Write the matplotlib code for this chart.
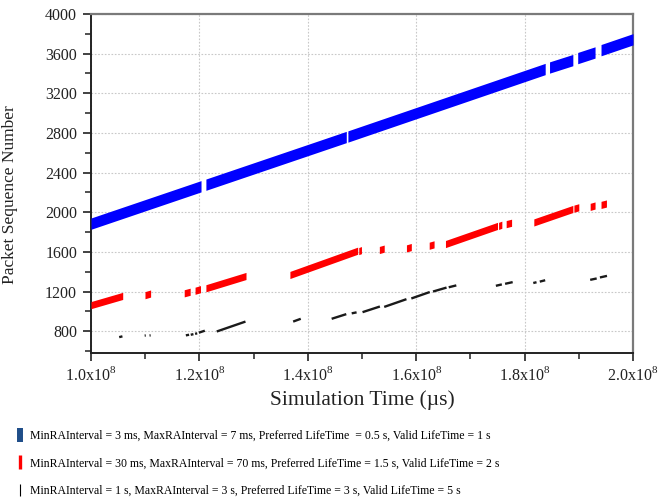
import matplotlib
matplotlib.use('Agg')
import matplotlib.pyplot as plt
from matplotlib.lines import Line2D
from matplotlib.ticker import MultipleLocator, FuncFormatter

# ---- data: received segments (time in µs, packet sequence number at start / end)
blue_t0 = [1.000e8, 1.212e8, 1.474e8, 1.846e8, 1.898e8, 1.941e8]
blue_t1 = [1.203e8, 1.471e8, 1.838e8, 1.889e8, 1.930e8, 2.000e8]
blue_s0 = [1885, 2278, 2764, 3460, 3555, 3635]
blue_s1 = [2262, 2759, 3445, 3535, 3612, 3745]

red_t0 = [1.000e8, 1.0996e8, 1.172e8, 1.192e8, 1.212e8, 1.367e8, 1.494e8, 1.532e8,
          1.582e8, 1.624e8, 1.654e8, 1.752e8, 1.766e8, 1.817e8, 1.891e8, 1.921e8, 1.941e8]
red_t1 = [1.0585e8, 1.110e8, 1.183e8, 1.202e8, 1.286e8, 1.492e8, 1.499e8, 1.541e8,
          1.591e8, 1.633e8, 1.750e8, 1.758e8, 1.776e8, 1.889e8, 1.900e8, 1.930e8, 1.951e8]
red_s0 = [1063, 1163, 1182, 1208, 1233, 1367, 1608, 1619,
          1635, 1662, 1679, 1862, 1880, 1897, 2036, 2054, 2074]
red_s1 = [1156, 1180, 1198, 1224, 1357, 1612, 1618, 1633,
          1649, 1676, 1862, 1874, 1894, 2033, 2050, 2068, 2088]

black_t0 = [1.052e8, 1.099e8, 1.108e8, 1.175e8, 1.184e8, 1.192e8, 1.199e8, 1.232e8,
            1.373e8, 1.444e8, 1.481e8, 1.501e8, 1.541e8, 1.591e8, 1.631e8, 1.660e8,
            1.747e8, 1.764e8, 1.816e8, 1.828e8, 1.921e8, 1.939e8]
black_t1 = [1.058e8, 1.101e8, 1.110e8, 1.181e8, 1.189e8, 1.196e8, 1.210e8, 1.285e8,
            1.387e8, 1.471e8, 1.490e8, 1.533e8, 1.582e8, 1.625e8, 1.656e8, 1.674e8,
            1.758e8, 1.778e8, 1.822e8, 1.838e8, 1.933e8, 1.952e8]
black_s0 = [740, 756, 757, 758, 764, 774, 785, 797,
            897, 925, 980, 992, 1045, 1130, 1200, 1243,
            1258, 1278, 1286, 1300, 1318, 1342]
black_s1 = [748, 757, 758, 764, 770, 778, 805, 897,
            925, 972, 990, 1049, 1123, 1195, 1240, 1262,
            1272, 1295, 1294, 1314, 1332, 1358]

legend_labels = [
    "MinRAInterval = 3 ms, MaxRAInterval = 7 ms, Preferred LifeTime  = 0.5 s, Valid LifeTime = 1 s",
    "MinRAInterval = 30 ms, MaxRAInterval = 70 ms, Preferred LifeTime = 1.5 s, Valid LifeTime = 2 s",
    "MinRAInterval = 1 s, MaxRAInterval = 3 s, Preferred LifeTime = 3 s, Valid LifeTime = 5 s",
]

plt.rcParams['font.family'] = ['Liberation Serif', 'DejaVu Serif']
plt.rcParams['mathtext.fontset'] = 'custom'
plt.rcParams['mathtext.rm'] = 'Liberation Serif'

fig = plt.figure(figsize=(6.6, 4.98), dpi=100)
ax = fig.add_axes([91/660, 1-353/498, (633-91)/660, (353-14)/498])

def band(t0, t1, s0, s1, half, color):
    for a, b, c, d in zip(t0, t1, s0, s1):
        ax.fill_between([a, b], [c-half, d-half], [c+half, d+half], color=color, lw=0, zorder=3)

band(blue_t0, blue_t1, blue_s0, blue_s1, 57, '#0000FF')
band(red_t0, red_t1, red_s0, red_s1, 36, '#FF0000')
for a, b, c, d in zip(black_t0, black_t1, black_s0, black_s1):
    ax.plot([a, b], [c, d], color='#1a1a1a', lw=1.7, solid_capstyle='butt', zorder=3)

ax.set_xlim(1.0e8, 2.0e8)
ax.set_ylim(580, 4000)
ax.xaxis.set_major_locator(MultipleLocator(0.2e8))
ax.xaxis.set_minor_locator(MultipleLocator(0.1e8))
ax.yaxis.set_minor_locator(MultipleLocator(200))
ax.set_yticks([800, 1200, 1600, 2000, 2400, 2800, 3200, 3600, 4000])
ax.xaxis.set_major_formatter(FuncFormatter(lambda v, p: r'%.1fx10$^{\mathregular{8}}$' % (v/1e8)))

ax.grid(True, which='major', color='#c8c8c8', linestyle=(0, (1.5, 1.5)), linewidth=0.8, zorder=0)
ax.tick_params(axis='both', which='major', direction='out', length=6, width=1.2,
               labelsize=11.5, colors='#222222', pad=4)
ax.tick_params(axis='both', which='minor', direction='out', length=4, width=1.1, colors='#222222')
ax.tick_params(axis='x', which='major', pad=3)
for s in ['left', 'bottom']:
    ax.spines[s].set_color('#222222')
    ax.spines[s].set_linewidth(1.4)
for s in ['top', 'right']:
    ax.spines[s].set_color('#7a7a7a')
    ax.spines[s].set_linewidth(1.6)

ax.set_xlabel('Simulation Time (µs)', fontsize=15.5, color='#222222', labelpad=5)
ax.set_ylabel('Packet Sequence Number', fontsize=12.5, color='#222222')
ax.yaxis.set_label_coords(-(91-18)/542, (353-195)/339)

handles = [
    Line2D([], [], marker='|', linestyle='None', color='#1F4E89', markersize=10.5, markeredgewidth=4.3),
    Line2D([], [], marker='|', linestyle='None', color='#FF0000', markersize=9.5, markeredgewidth=2.4),
    Line2D([], [], marker='|', linestyle='None', color='#000000', markersize=8.5, markeredgewidth=0.8),
]
fig.legend(handles, legend_labels, loc='upper left', bbox_to_anchor=(17/660, 1-430/498),
           frameon=False, fontsize=8.5, handlelength=0.5, handletextpad=0.6,
           labelspacing=1.3, borderpad=0, borderaxespad=0)

fig.savefig('out.png', dpi=100)
